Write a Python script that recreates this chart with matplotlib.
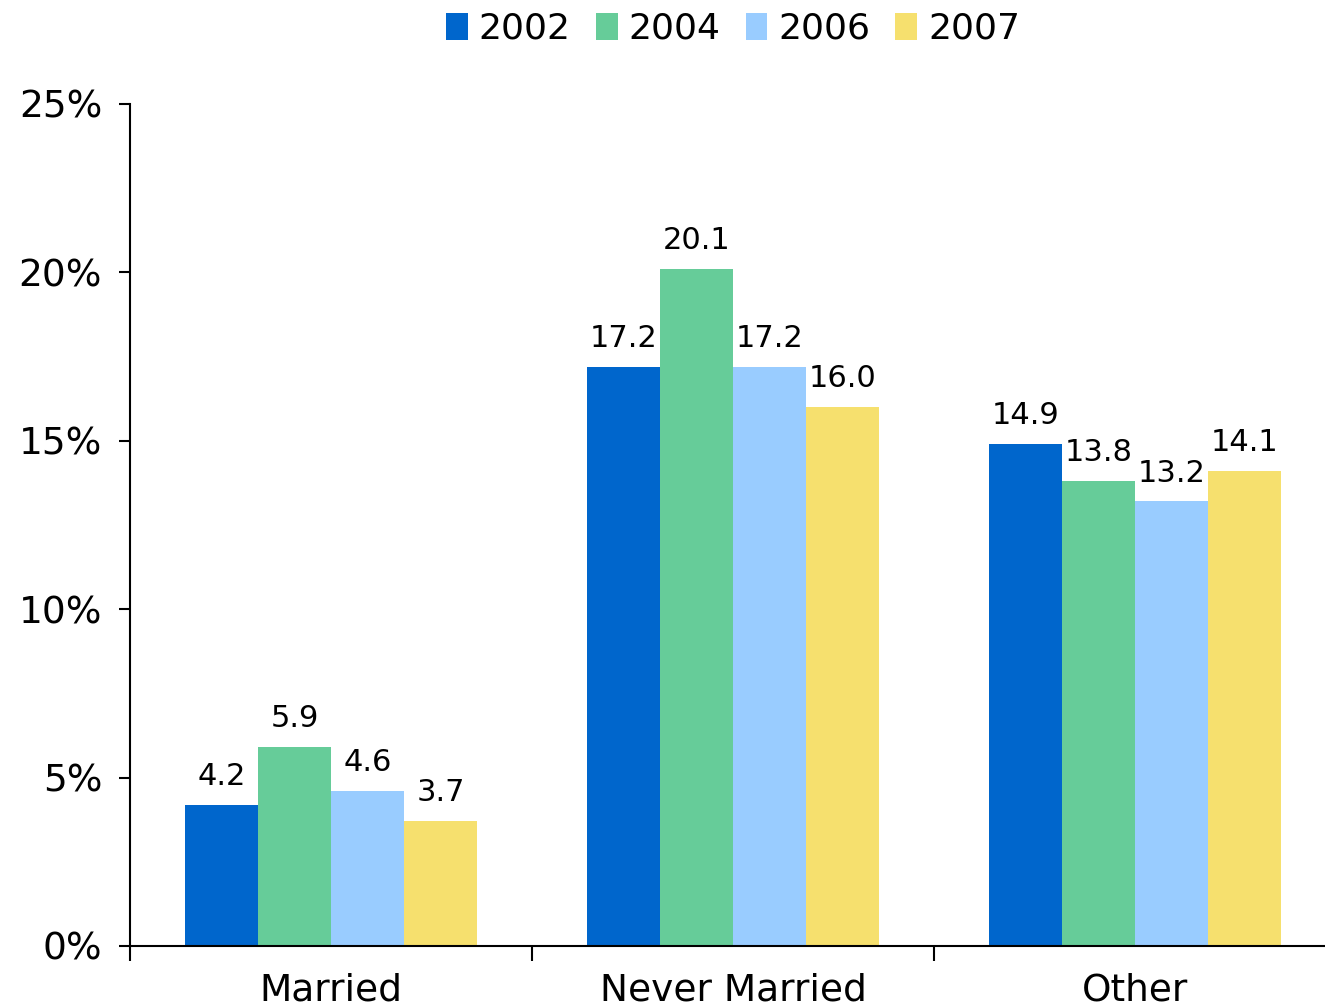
import numpy as np
import matplotlib.pyplot as plt
from matplotlib.ticker import FuncFormatter, FixedLocator

# Data
categories = ["Married", "Never Married", "Other"]
years = ["2002", "2004", "2006", "2007"]
values_2002 = [4.2, 17.2, 14.9]
values_2004 = [5.9, 20.1, 13.8]
values_2006 = [4.6, 17.2, 13.2]
values_2007 = [3.7, 16.0, 14.1]
colors = ["#0066CC", "#66CC99", "#99CCFF", "#F6E06E"]

series = [values_2002, values_2004, values_2006, values_2007]

plt.rcParams['font.family'] = ['DejaVu Sans']

fig = plt.figure(figsize=(13.25, 10.08), dpi=100)
ax = fig.add_axes([130 / 1325, 62 / 1008, 1206 / 1325, 842 / 1008])

x = np.arange(len(categories))
bar_w = 0.1815
for i, (vals, year, col) in enumerate(zip(series, years, colors)):
    pos = x + (i - 1.5) * bar_w
    bars = ax.bar(pos, vals, width=bar_w, color=col, label=year, zorder=2)
    for b, v in zip(bars, vals):
        ax.annotate(f"{v:.1f}", (b.get_x() + b.get_width() / 2, v),
                    xytext=(0, 10), textcoords="offset points",
                    ha="center", va="bottom", fontsize=22)

ax.set_xlim(-0.5, 2.5)
ax.set_ylim(0, 25)
ax.set_yticks([0, 5, 10, 15, 20, 25])
ax.yaxis.set_major_formatter(FuncFormatter(lambda v, p: f"{v:.0f}%"))

# category separators as major ticks, labels as minor ticks
ax.xaxis.set_major_locator(FixedLocator([-0.5, 0.5, 1.5, 2.5]))
ax.xaxis.set_minor_locator(FixedLocator(list(x)))
ax.set_xticklabels([])
ax.set_xticklabels(categories, minor=True)
ax.tick_params(axis="x", which="major", length=11, width=1.5, direction="out")
ax.tick_params(axis="x", which="minor", length=0, pad=19, labelsize=27)
ax.tick_params(axis="y", length=8, width=1.5, direction="out", pad=12, labelsize=27)

for side in ["top", "right"]:
    ax.spines[side].set_visible(False)
for side in ["left", "bottom"]:
    ax.spines[side].set_linewidth(1.5)

ax.legend(loc="upper center", bbox_to_anchor=(0.5, 1.148), ncol=4, frameon=False,
          fontsize=26, handlelength=0.6, handleheight=0.75, handletextpad=0.3,
          columnspacing=0.7)

fig.savefig("out.png", dpi=100)
